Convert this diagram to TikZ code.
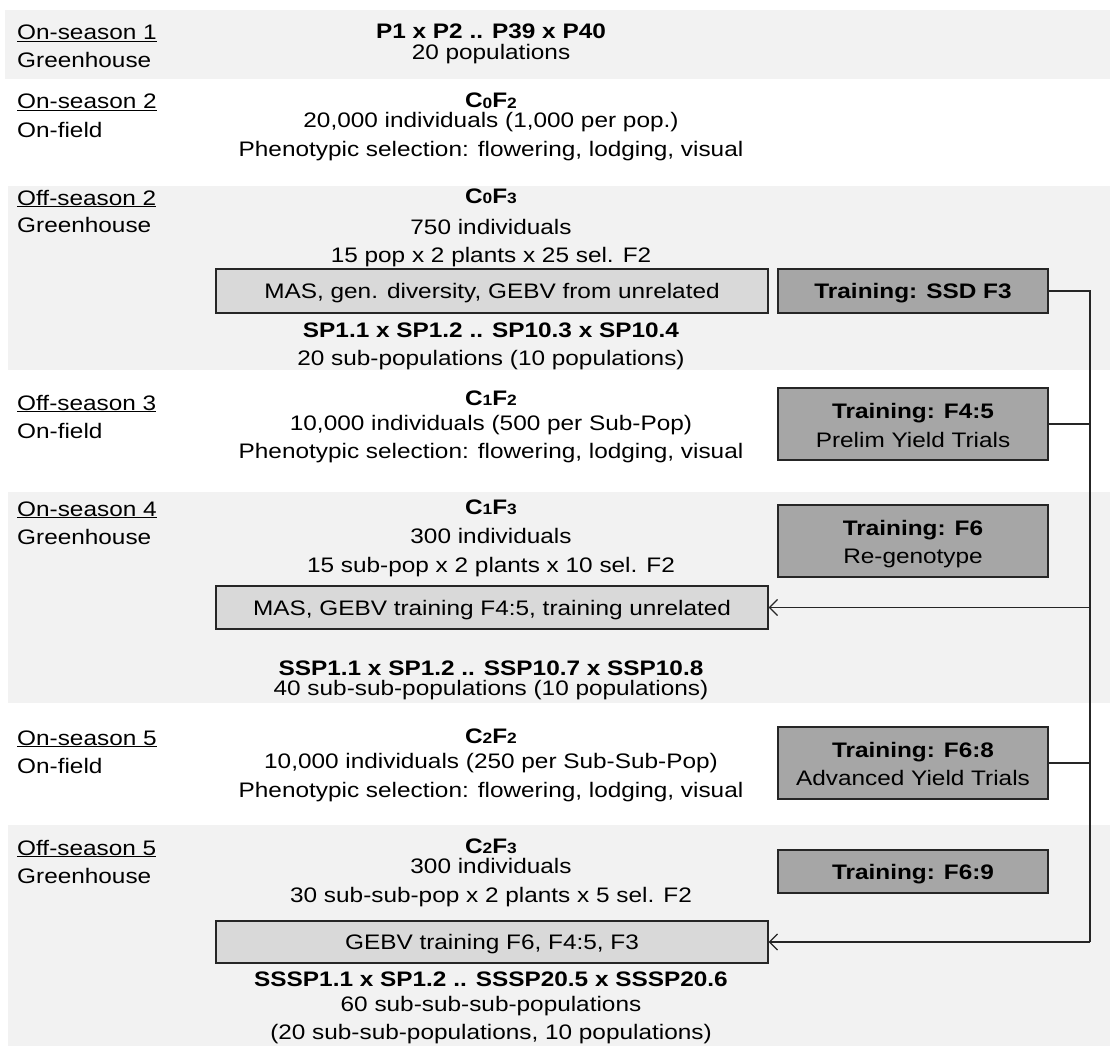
\documentclass[tikz,border=0pt]{standalone}
\usepackage{fontspec}
\setmainfont{Liberation Sans}[FakeStretch=1.16]
\usetikzlibrary{arrows.meta}
\definecolor{band}{HTML}{F2F2F2}
\definecolor{lightbox}{HTML}{D9D9D9}
\definecolor{darkbox}{HTML}{A6A6A6}
\definecolor{edge}{HTML}{262626}
\newcommand{\smallidx}[1]{\raisebox{-0.8pt}{\fontsize{15}{15}\selectfont #1}}
\tikzset{
  txt/.style={font=\fontsize{21}{21}\selectfont, inner sep=0pt, anchor=base},
  bld/.style={font=\fontsize{21}{21}\selectfont\bfseries, inner sep=0pt, anchor=base},
  lbl/.style={font=\fontsize{21}{21}\selectfont, inner sep=0pt, anchor=base west},
  masbox/.style={draw=edge, fill=lightbox, line width=1.2pt, inner sep=0pt},
  trainbox/.style={draw=edge, fill=darkbox, line width=1.2pt, inner sep=0pt},
  conn/.style={draw=edge, line width=1.3pt},
  arr/.style={conn, -{Straight Barb[length=8pt, width=16pt, line width=1.3pt]}}
}
\begin{document}
\begin{tikzpicture}[x=1pt, y=-1pt]
\useasboundingbox (0,0) rectangle (1110,1046);
% bands
\fill[band] (5,10) rectangle (1110,79);
\fill[band] (8,186) rectangle (1110,370);
\fill[band] (8,492) rectangle (1110,703);
\fill[band] (8,825) rectangle (1110,1046);

% left labels
\node[lbl] (s1a) at (17,40) {\underline{On-season 1}};
\node[lbl] (s1b) at (17,68) {Greenhouse};
\node[lbl] (s2a) at (17,109) {\underline{On-season 2}};
\node[lbl] (s2b) at (17,137) {On-field};
\node[lbl] (s3a) at (17,205) {\underline{Off-season 2}};
\node[lbl] (s3b) at (17,232) {Greenhouse};
\node[lbl] (s4a) at (17,410) {\underline{Off-season 3}};
\node[lbl] (s4b) at (17,438) {On-field};
\node[lbl] (s5a) at (17,516) {\underline{On-season 4}};
\node[lbl] (s5b) at (17,544) {Greenhouse};
\node[lbl] (s6a) at (17,745) {\underline{On-season 5}};
\node[lbl] (s6b) at (17,773) {On-field};
\node[lbl] (s7a) at (17,855) {\underline{Off-season 5}};
\node[lbl] (s7b) at (17,883) {Greenhouse};

% boxes
\node[masbox, minimum width=552pt, minimum height=44pt] (mas1) at (492,291) {};
\node[masbox, minimum width=552pt, minimum height=43pt] (mas2) at (492,607.5) {};
\node[masbox, minimum width=552pt, minimum height=42pt] (gebv) at (492,942) {};
\node[trainbox, minimum width=270pt, minimum height=44pt] (ssd) at (913,291) {};
\node[trainbox, minimum width=270pt, minimum height=72pt] (f45) at (913,424) {};
\node[trainbox, minimum width=270pt, minimum height=72pt] (f6) at (913,541) {};
\node[trainbox, minimum width=270pt, minimum height=72pt] (f68) at (913,763) {};
\node[trainbox, minimum width=270pt, minimum height=43pt] (f69) at (913,871.5) {};

% band 1
\node[bld] (b1a) at (491,39) {P1 x P2 .. P39 x P40};
\node[txt] (b1b) at (491,60) {20 populations};
% band 2
\node[bld] (b2a) at (491,108) {C\smallidx{0}F\smallidx{2}};
\node[txt] (b2b) at (491,128) {20,000 individuals (1,000 per pop.)};
\node[txt] (b2c) at (491,157) {Phenotypic selection: flowering, lodging, visual};
% band 3
\node[bld] (b3a) at (491,203) {C\smallidx{0}F\smallidx{3}};
\node[txt] (b3b) at (491,234) {750 individuals};
\node[txt] (b3c) at (491,262) {15 pop x 2 plants x 25 sel. F2};
\node[txt] (mas1t) at (492,298.5) {MAS, gen. diversity, GEBV from unrelated};
\node[bld] (b3d) at (491,337) {SP1.1 x SP1.2 .. SP10.3 x SP10.4};
\node[txt] (b3e) at (491,365) {20 sub-populations (10 populations)};
\node[bld] (ssdt) at (913,298.5) {Training: SSD F3};
% band 4
\node[bld] (b4a) at (491,405) {C\smallidx{1}F\smallidx{2}};
\node[txt] (b4b) at (491,430) {10,000 individuals (500 per Sub-Pop)};
\node[txt] (b4c) at (491,458) {Phenotypic selection: flowering, lodging, visual};
\node[bld] (f45a) at (913,418) {Training: F4:5};
\node[txt] (f45b) at (913,447) {Prelim Yield Trials};
% band 5
\node[bld] (b5a) at (491,514) {C\smallidx{1}F\smallidx{3}};
\node[txt] (b5b) at (491,543) {300 individuals};
\node[txt] (b5c) at (491,572) {15 sub-pop x 2 plants x 10 sel. F2};
\node[txt] (mas2t) at (492,615) {MAS, GEBV training F4:5, training unrelated};
\node[bld] (b5d) at (491,675) {SSP1.1 x SP1.2 .. SSP10.7 x SSP10.8};
\node[txt] (b5e) at (491,695) {40 sub-sub-populations (10 populations)};
\node[bld] (f6a) at (913,535) {Training: F6};
\node[txt] (f6b) at (913,563) {Re-genotype};
% band 6
\node[bld] (b6a) at (491,743) {C\smallidx{2}F\smallidx{2}};
\node[txt] (b6b) at (491,768) {10,000 individuals (250 per Sub-Sub-Pop)};
\node[txt] (b6c) at (491,797) {Phenotypic selection: flowering, lodging, visual};
\node[bld] (f68a) at (913,757) {Training: F6:8};
\node[txt] (f68b) at (913,785) {Advanced Yield Trials};
% band 7
\node[bld] (b7a) at (491,853) {C\smallidx{2}F\smallidx{3}};
\node[txt] (b7b) at (491,873) {300 individuals};
\node[txt] (b7c) at (491,902) {30 sub-sub-pop x 2 plants x 5 sel. F2};
\node[bld] (f69t) at (913,879) {Training: F6:9};
\node[txt] (gebvt) at (492,949.5) {GEBV training F6, F4:5, F3};
\node[bld] (b7d) at (491,986) {SSSP1.1 x SP1.2 .. SSSP20.5 x SSSP20.6};
\node[txt] (b7e) at (491,1011) {60 sub-sub-sub-populations};
\node[txt] (b7f) at (491,1039) {(20 sub-sub-populations, 10 populations)};

% connectors
\coordinate (trtop) at (1090,291);
\coordinate (trbot) at (1090,942);
\draw[conn] (ssd.east) -- (trtop) -- (trbot);
\draw[arr] (trbot) -- (gebv.east);
\draw[conn] (f45.east) -- (f45.east -| trtop);
\draw[conn] (f68.east) -- (f68.east -| trtop);
\draw[arr] (mas2.east -| trtop) -- (mas2.east);
\end{tikzpicture}
\end{document}
